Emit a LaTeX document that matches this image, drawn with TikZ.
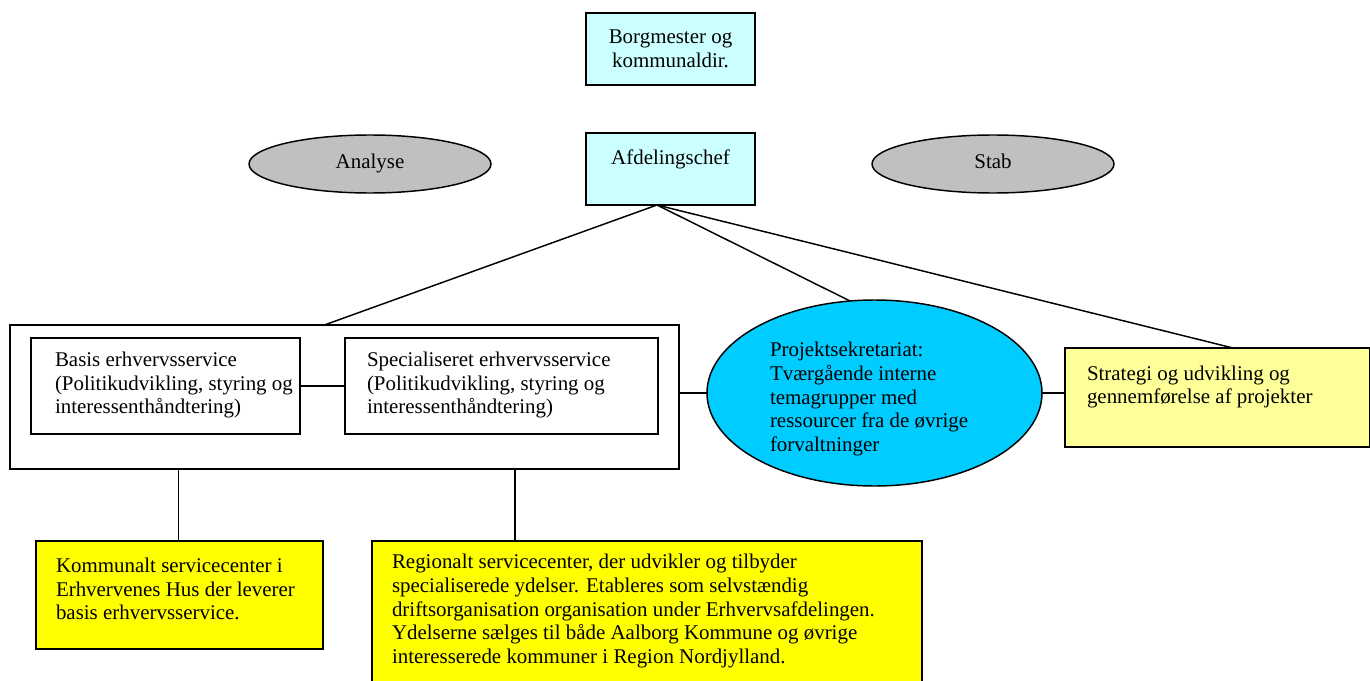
\documentclass[tikz,border=0pt]{standalone}
\usepackage{fontspec}
\setmainfont{Liberation Serif}
\usetikzlibrary{shapes.geometric,calc}
\definecolor{lcyan}{HTML}{CCFFFF}
\definecolor{dcyan}{HTML}{00CCFF}
\definecolor{lgray}{HTML}{C0C0C0}
\definecolor{lyellow}{HTML}{FFFF99}
\definecolor{dyellow}{HTML}{FFFF00}
\begin{document}
\begin{tikzpicture}[x=0.75pt,y=-0.75pt,
  every node/.style={font=\fontsize{15.7}{17.8}\selectfont, inner sep=0pt, outer sep=0pt},
  box/.style={draw, line width=1.1pt, rectangle},
  oval/.style={draw, line width=1.1pt, ellipse},
  txt/.style={align=left, anchor=west},
  conn/.style={line width=1.1pt}]
\useasboundingbox (0,0) rectangle (1370,681);
% top boxes
\node[box, fill=lcyan, minimum width=126.75pt, minimum height=54pt, align=center] (borg) at (670.5,49) {Borgmester og\\kommunaldir.};
\node[box, fill=lcyan, minimum width=126.75pt, minimum height=54pt] (afd) at (670.5,169) {};
\node[text height=11pt, text depth=3.5pt] (afdt) at (670.5,160) {Afdelingschef};
\node[oval, fill=lgray, minimum width=181.5pt, minimum height=43.5pt, text height=11pt, text depth=3.5pt] (analyse) at (370,164) {Analyse};
\node[oval, fill=lgray, minimum width=181.5pt, minimum height=43.5pt, text height=11pt, text depth=3.5pt] (stab) at (993,164) {Stab};
% outer box
\node[box, minimum width=501.75pt, minimum height=108pt] (outer) at (344.5,397) {};
\node[box, minimum width=201.75pt, minimum height=72pt] (basis) at (165.5,386) {};
\node[txt] (basist) at (55,385) {Basis erhvervsservice\\(Politikudvikling, styring og\\interessenthåndtering)};
\node[box, minimum width=234.75pt, minimum height=72pt] (spec) at (501.5,386) {};
\node[txt] (spect) at (367,385) {Specialiseret erhvervsservice\\(Politikudvikling, styring og\\interessenthåndtering)};
% projekt ellipse
\node[oval, fill=dcyan, minimum width=251.25pt, minimum height=139.5pt] (proj) at (874.5,393) {};
\node[txt] (projt) at (770,399) {Projektsekretariat:\\Tværgående interne\\temagrupper med\\ressourcer fra de øvrige\\forvaltninger};
% strategi
\node[box, fill=lyellow, minimum width=228.75pt, minimum height=74.25pt] (strat) at (1217.5,397.5) {};
\node[txt] (stratt) at (1087,387) {Strategi og udvikling og\\gennemførelse af projekter};
% bottom boxes
\node[box, fill=dyellow, minimum width=215.25pt, minimum height=81pt] (kom) at (179.5,595) {};
\node[txt] (komt) at (56,589) {Kommunalt servicecenter i\\Erhvervenes Hus der leverer\\basis erhvervsservice.};
\node[box, fill=dyellow, minimum width=412.5pt, minimum height=111.75pt] (reg) at (647,615.5) {};
\node[txt] (regt) at (392,611) {Regionalt servicecenter, der udvikler og tilbyder\\specialiserede ydelser. Etableres som selvstændig\\driftsorganisation organisation under Erhvervsafdelingen.\\Ydelserne sælges til både Aalborg Kommune og øvrige\\interesserede kommuner i Region Nordjylland.};
% connectors
\coordinate (a1) at (657,205);
\coordinate (o1) at (323,325.5);
\coordinate (p1) at (850,301);
\coordinate (s1) at (1235,348.5);
\coordinate (r1) at (515,541);
\coordinate (k1) at (178.5,541);
\draw[conn] (a1) -- (o1);
\draw[conn] (a1) -- (p1);
\draw[conn] (a1) -- (s1);
\draw[conn] (basis.east) -- (spec.west);
\draw[conn] (outer.east |- proj.west) -- (proj.west);
\draw[conn] (proj.east) -- (strat.west |- proj.east);
\draw[conn] (k1) -- (k1 |- outer.south);
\draw[conn] (r1) -- (r1 |- outer.south);
\end{tikzpicture}
\end{document}
